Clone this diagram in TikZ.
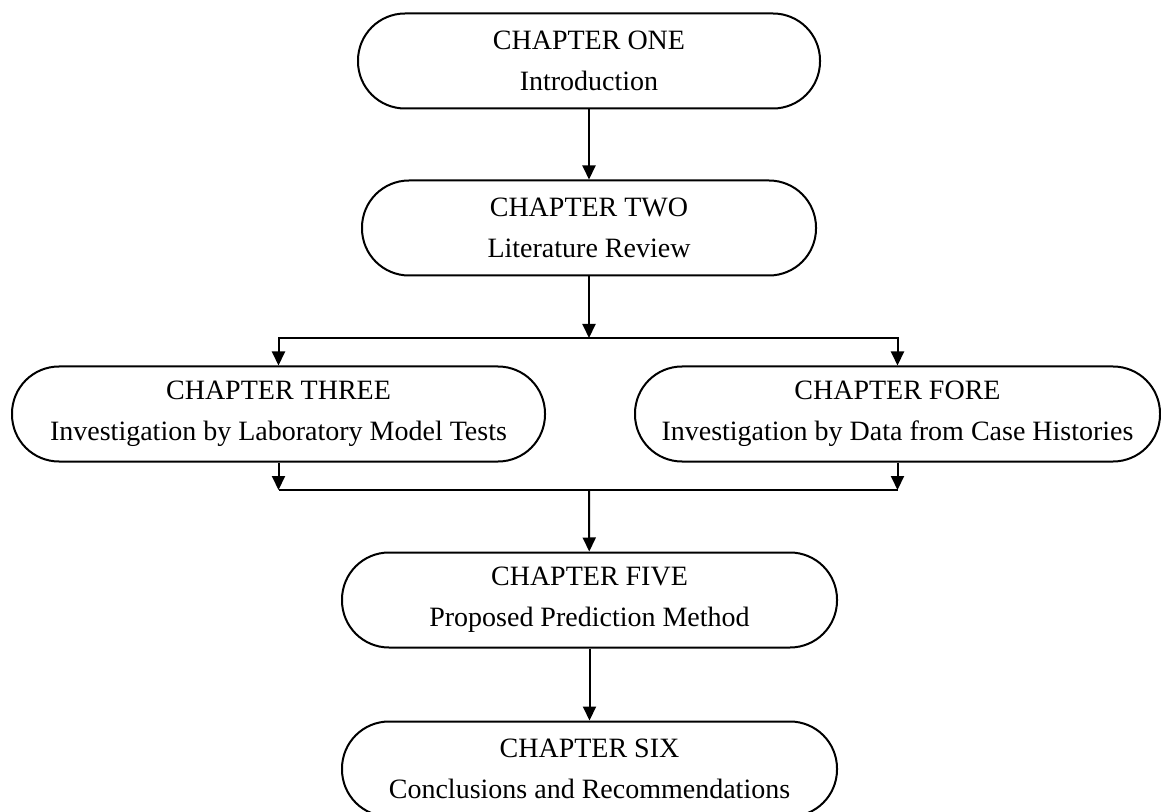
\documentclass[tikz,border=0pt]{standalone}
\usepackage{fontspec}
\setmainfont{Liberation Serif}
\usepackage{tikz}
\usetikzlibrary{arrows.meta}

\begin{document}
\begin{tikzpicture}[x=0.5pt, y=-0.5pt, line width=1pt, >={Triangle[length=7pt, width=6.5pt]},
    chap/.style = {draw, rounded corners=23.5pt, minimum height=47.5pt, inner sep=0pt, align=center, font=\fontsize{14}{20.5}\selectfont}]
    \useasboundingbox (0,0) rectangle (1161,812);
    \node[chap, minimum width=231pt] (one) at (589,61) {CHAPTER ONE\\Introduction};
    \node[chap, minimum width=227pt] (two) at (589,228) {CHAPTER TWO\\Literature Review};
    \node[chap, minimum width=266.5pt] (three) at (278.5,414) {CHAPTER THREE\\Investigation by Laboratory Model Tests};
    \node[chap, minimum width=262.5pt] (four) at (897.5,414) {CHAPTER FORE\\Investigation by Data from Case Histories};
    \node[chap, minimum width=247.5pt] (five) at (589.5,600) {CHAPTER FIVE\\Proposed Prediction Method};
    \node[chap, minimum width=247.5pt] (six) at (589.5,769) {CHAPTER SIX\\Conclusions and Recommendations};
    \coordinate (split) at (589,338);
    \coordinate (join) at (589,490);
    \draw[->] (one) -- (two);
    \draw[->] (two) -- (split);
    \draw[->] (split) -| (three);
    \draw[->] (split) -| (four);
    \draw[->] (three) -- (three |- join);
    \draw[->] (four) -- (four |- join);
    \draw (three |- join) -- (four |- join);
    \draw[->] (join) -- (five);
    \draw[->] (five) -- (six);
\end{tikzpicture}
\end{document}
